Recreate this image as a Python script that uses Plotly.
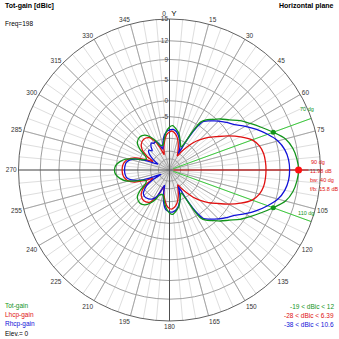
import numpy as np
import plotly.graph_objects as go

# ---------------- data ----------------
tot_angle = [0, 4, 10, 15, 20, 24, 27, 29, 31, 33, 36, 40, 45, 50, 55, 60, 65, 70, 75, 80, 85, 90,
             95, 100, 105, 110, 115, 120, 125, 130, 135, 140, 144, 147, 149, 151, 153, 156, 160, 165,
             170, 176, 180, 185, 190, 194, 198, 202, 205, 210, 215, 222, 230, 235, 240, 244, 248, 252,
             256, 260, 265, 270, 275, 280, 284, 288, 292, 296, 300, 305, 310, 318, 325, 330, 335, 338,
             342, 346, 350, 355, 360]
tot_db = [-9.2, -8.5, -10.1, -12.0, -15.4, -18.0, -19.0, -16.0, -8.3, -3.7, -2.1, -0.9, 0.8, 2.3, 4.2,
          5.7, 7.3, 8.98, 10.6, 11.4, 11.8, 11.98,
          11.8, 11.4, 10.6, 8.98, 7.3, 5.7, 4.2, 2.3, 0.8, -0.9, -2.1, -3.7, -8.3, -16.0, -19.0, -18.0,
          -15.4, -12.0, -10.1, -8.5, -9.2, -11.5, -15.4, -18.8, -19.0, -18.0, -14.9, -11.5, -9.4, -8.5,
          -9.6, -12.6, -17.4, -19.0, -18.0, -12.6, -8.3, -6.3, -4.8, -4.4, -4.8, -6.3, -8.3, -12.6,
          -18.0, -19.0, -17.4, -12.6, -9.6, -8.5, -9.4, -11.5, -14.9, -18.0, -19.0, -18.8, -15.4,
          -11.5, -9.2]

lhcp_angle = [0, 4, 10, 15, 20, 25, 29, 33, 37, 41, 45, 50, 55, 60, 65, 70, 75, 80, 85, 90,
              95, 100, 105, 110, 115, 120, 125, 130, 135, 139, 143, 147, 151, 155, 160, 165, 170, 176,
              180, 185, 190, 195, 199, 203, 207, 212, 220, 228, 234, 239, 243, 247, 251, 256, 261, 265,
              270, 275, 279, 284, 289, 293, 297, 301, 306, 312, 320, 328, 333, 337, 341, 345, 350, 355, 360]
lhcp_db = [-11.5, -11.0, -12.5, -15.0, -19.0, -24.0, -28.0, -22.0, -17.0, -12.5, -9.4, -6.0, -3.3,
           -0.3, 2.4, 4.6, 5.7, 6.2, 6.35, 6.39,
           6.35, 6.2, 5.7, 4.6, 2.4, -0.3, -3.3, -6.0, -9.4, -12.5, -17.0, -22.0, -27.0, -24.0, -19.0,
           -15.0, -12.5, -11.0, -11.3, -13.0, -17.0, -22.0, -27.0, -20.0, -14.5, -11.5, -10.5, -11.5,
           -14.0, -19.0, -25.0, -18.0, -12.0, -9.0, -7.8, -7.4, -7.3, -7.4, -7.8, -9.0, -12.0, -18.0,
           -25.0, -19.0, -14.0, -11.5, -10.5, -11.5, -14.5, -20.0, -28.0, -22.0, -17.0, -13.0, -11.5]

rhcp_angle = [0, 5, 10, 15, 20, 25, 28, 30, 32, 35, 40, 45, 50, 55, 60, 65, 70, 75, 80, 85, 90,
              95, 100, 105, 110, 115, 120, 125, 130, 135, 140, 145, 148, 150, 152, 155, 160, 165, 170,
              176, 180, 185, 190, 194, 198, 201, 205, 210, 216, 222, 228, 232, 236, 240, 244, 248, 252,
              256, 260, 265, 270, 275, 280, 284, 288, 292, 296, 300, 305, 310, 314, 318, 322, 326, 330,
              334, 338, 342, 346, 350, 355, 360]
rhcp_db = [-10.5, -10.2, -11.0, -13.0, -16.0, -20.0, -25.0, -14.0, -7.0, -3.0, -1.5, 0.0, 1.3, 2.6,
           4.5, 6.3, 7.9, 9.3, 10.1, 10.5, 10.6,
           10.5, 10.1, 9.3, 7.9, 6.3, 4.5, 2.6, 1.3, 0.0, -1.5, -3.0, -7.0, -14.0, -25.0, -21.0, -15.5,
           -12.5, -10.5, -9.5, -9.7, -10.5, -14.0, -20.0, -28.0, -24.0, -17.0, -14.0, -12.8, -12.3,
           -13.0, -15.0, -18.0, -25.0, -38.0, -22.0, -14.0, -10.5, -8.9, -8.4, -8.3, -8.4, -8.8, -10.0,
           -13.0, -20.0, -32.0, -28.0, -22.0, -18.0, -17.0, -19.0, -16.0, -14.5, -15.5, -15.0, -17.0,
           -22.0, -18.0, -14.0, -11.5, -10.5]

ring_db = [15, 12, 9, 5, 0, -5, -15, -25, -35]
ring_text = ["15", "12", "9", "5", "0", "-5", "", "", ""]
angle_ticks = list(range(0, 360, 5))
# 90 is hidden under the max-gain notes in the reference
angle_text = [("" if a == 90 else str(a)) if a % 15 == 0 else "" for a in angle_ticks]
angle_text[0] = "0\u00a0\u00a0\u00a0<span style='font-size:8px;color:#000000'>Y</span>"

max_angle, max_db = 90, 11.98
bw_angles = [70, 110]
bw_db = 8.98

# ---------------- scale ----------------
R_OUT = 151.0
def rmap(db):
    """ARRL-like log radial scale: outer ring = 15 dBic"""
    return R_OUT * np.exp(0.052 * (np.asarray(db, float) - 15.0))

GREEN = "#12941a"
RED = "#e01010"
BLUE = "#1010d8"
FONT = "Liberation Sans, Arial, sans-serif"

W = H = 339
cx, cy = 169.5, 170.0

fig = go.Figure()

# major spokes every 15 deg (darker than the 5 deg grid)
for a in range(0, 360, 15):
    if a % 90 == 0:
        continue
    fig.add_trace(go.Scatterpolar(r=[0, R_OUT], theta=[a, a], mode="lines",
                                  line=dict(color="#a6a6a6", width=1), hoverinfo="skip"))
# main axes
for a in (0, 90):
    fig.add_trace(go.Scatterpolar(r=[R_OUT, 0, R_OUT], theta=[a, 0, a + 180], mode="lines",
                                  line=dict(color="#505050", width=1), hoverinfo="skip"))

# beamwidth and max lines
for a in bw_angles:
    fig.add_trace(go.Scatterpolar(r=[4, R_OUT], theta=[a, a], mode="lines",
                                  line=dict(color="#3ccc3c", width=1), hoverinfo="skip"))
fig.add_trace(go.Scatterpolar(r=[4, R_OUT - 12], theta=[max_angle, max_angle], mode="lines",
                              line=dict(color=RED, width=1), hoverinfo="skip"))

# pattern curves
for ang, db, col in ((lhcp_angle, lhcp_db, RED), (rhcp_angle, rhcp_db, BLUE), (tot_angle, tot_db, GREEN)):
    fig.add_trace(go.Scatterpolar(r=rmap(db), theta=ang, mode="lines",
                                  line=dict(color=col, width=1.3, shape="spline", smoothing=0.8),
                                  hoverinfo="skip"))

# markers
fig.add_trace(go.Scatterpolar(r=rmap([bw_db, bw_db]), theta=bw_angles, mode="markers",
                              marker=dict(color=GREEN, size=5), hoverinfo="skip"))
fig.add_trace(go.Scatterpolar(r=rmap([max_db]), theta=[max_angle], mode="markers",
                              marker=dict(color="#ff1010", size=7), hoverinfo="skip"))

fig.update_layout(
    width=W, height=H, margin=dict(l=0, r=0, t=0, b=0),
    paper_bgcolor="white", plot_bgcolor="white", showlegend=False,
    font=dict(family=FONT, size=7, color="#333"),
    polar=dict(
        domain=dict(x=[(cx - R_OUT) / W, (cx + R_OUT) / W],
                    y=[(H - cy - R_OUT) / H, (H - cy + R_OUT) / H]),
        bgcolor="white",
        radialaxis=dict(range=[0, R_OUT], tickvals=list(rmap(ring_db)), ticktext=ring_text,
                        angle=90, side="counterclockwise", showline=False, ticks="",
                        tickangle=90, gridcolor="#a0a0a0", gridwidth=1,
                        tickfont=dict(size=6.5, color="#444", family=FONT)),
        angularaxis=dict(rotation=90, direction="clockwise", tickvals=angle_ticks,
                         ticktext=angle_text, ticks="", showline=True, linecolor="#606060",
                         linewidth=1, gridcolor="#dedede", gridwidth=1,
                         tickfont=dict(size=6.5, color="#333", family=FONT)),
    ),
)

def px(x, y):
    return x / W, 1 - y / H

def note(x, y, text, color="#000", size=6.5, anchor="left", bold=False):
    xx, yy = px(x, y)
    if bold:
        text = "<b>" + text + "</b>"
    fig.add_annotation(x=xx, y=yy, xref="paper", yref="paper", text=text, showarrow=False,
                       xanchor=anchor, yanchor="middle",
                       font=dict(family=FONT, size=size, color=color))

note(3, 6, "Tot-gain [dBic]", size=7, bold=True)
note(3, 24, "Freq=198")
note(336, 6, "Horizontal plane", size=7, anchor="right", bold=True)

note(3, 306, "Tot-gain", GREEN)
note(3, 315, "Lhcp-gain", RED)
note(3, 324, "Rhcp-gain", BLUE)
note(3, 333, "Elev.= 0", "#000")

note(336, 306, "-19 &lt; dBic &lt; 12", GREEN, anchor="right")
note(336, 315, "-28 &lt; dBic &lt; 6.39", RED, anchor="right")
note(336, 324, "-38 &lt; dBic &lt; 10.6", BLUE, anchor="right")

note(309, 162, "90 dg", RED, size=5.5)
note(308, 171, "11.98 dB", RED, size=5.5)
note(308, 180, "bw: 40 dg", RED, size=5.5)
note(308, 189, "f/b: 15.8 dB", RED, size=5.5)
note(298, 109, "70 dg", GREEN, size=5.5)
note(296, 213, "110 dg", GREEN, size=5.5)

fig.write_html("out.html")
